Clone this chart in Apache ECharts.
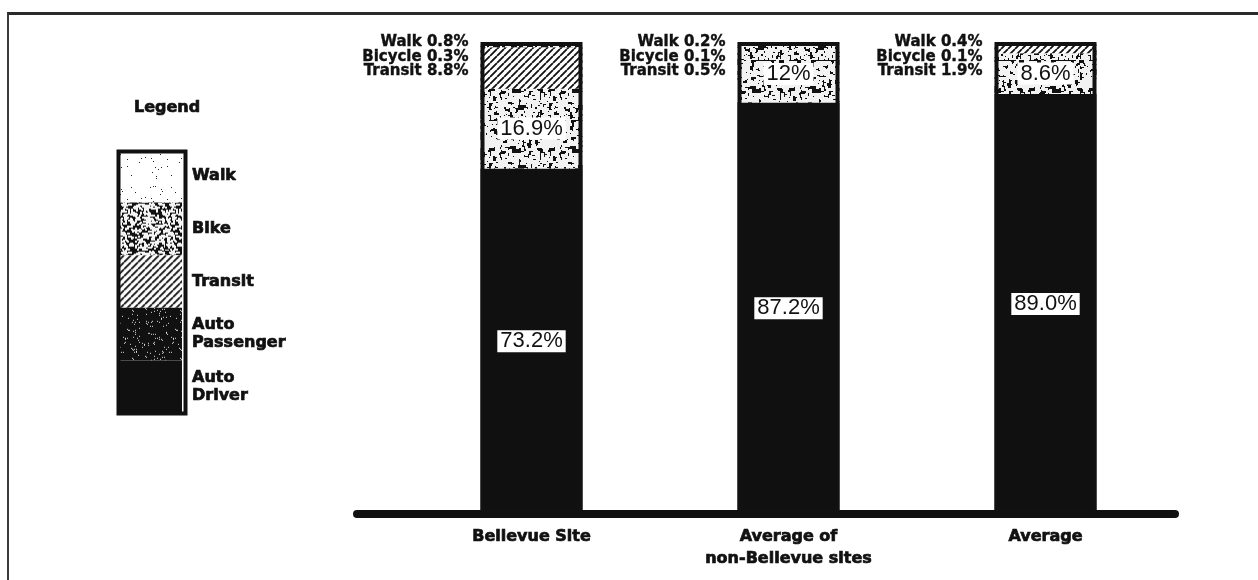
<!DOCTYPE html>
<html>
<head>
<meta charset="utf-8">
<title>Mode split by site</title>
<script src="https://cdn.jsdelivr.net/npm/echarts/dist/echarts.min.js"></script>
<style>
  html, body { margin: 0; padding: 0; background: #fff; overflow: hidden; }
  #wrap { position: relative; width: 1258px; height: 580px; }
  #chart { position: absolute; left: 0; top: 0; width: 1258px; height: 580px; }
  #frame { position: absolute; left: 7px; top: 12px; width: 1270px; height: 600px;
           border-top: 3px solid #2a2a2a; border-left: 2px solid #3a3a3a; pointer-events: none; }
</style>
</head>
<body>
<div id="wrap">
  <div id="chart"></div>
  <div id="frame"></div>
</div>
<script>
// Trip mode shares (percent) for each site group
const sites = ['Bellevue Site', 'Average of\nnon-Bellevue sites', 'Average'];
const autoDriver = [73.2, 87.2, 89.0];
const autoPassenger = [16.9, 12, 8.6];
const transit = [8.8, 0.5, 1.9];
const bike = [0.3, 0.1, 0.1];
const walk = [0.8, 0.2, 0.4];

const legendNames = ['Walk', 'Bike', 'Transit', 'Auto\nPassenger', 'Auto\nDriver'];
const noteNames = ['Walk', 'Bicycle', 'Transit'];

// --- fill textures -------------------------------------------------------
function hash(n) {
  n = (n ^ 61) ^ (n >>> 16);
  n = n + (n << 3);
  n = n ^ (n >>> 4);
  n = Math.imul(n, 0x27d4eb2d);
  n = n ^ (n >>> 15);
  return (n >>> 0) / 4294967296;
}
function speckle(size, bg, fg, density, dot, seed) {
  const c = document.createElement('canvas');
  c.width = c.height = size;
  const g = c.getContext('2d');
  g.fillStyle = bg;
  g.fillRect(0, 0, size, size);
  g.fillStyle = fg;
  for (let y = 0; y < size; y++) {
    for (let x = 0; x < size; x++) {
      if (hash(seed * 7919 + y * size + x) < density) g.fillRect(x, y, dot, dot);
    }
  }
  return { image: c, repeat: 'repeat' };
}
function hatch(size, lw) {
  const c = document.createElement('canvas');
  c.width = c.height = size;
  const g = c.getContext('2d');
  g.fillStyle = '#fff';
  g.fillRect(0, 0, size, size);
  g.strokeStyle = '#111';
  g.lineWidth = lw;
  g.beginPath();
  for (let k = -1; k <= 1; k++) {
    g.moveTo(k * size, size);
    g.lineTo(k * size + size, 0);
  }
  g.stroke();
  return { image: c, repeat: 'repeat' };
}

const fillWalk = speckle(40, '#ffffff', '#222', 0.02, 1, 1);
const fillBike = speckle(48, '#111111', '#f4f4f4', 0.2, 2, 2);
const fillTransit = hatch(7, 1.8);
const fillPassenger = speckle(60, '#111111', '#f2f2f2', 0.17, 3, 3);
const fillPassengerKey = speckle(48, '#111111', '#dddddd', 0.05, 1, 4);
const fillDriver = '#101010';

const totals = sites.map((_, i) => autoDriver[i] + autoPassenger[i] + transit[i] + bike[i] + walk[i]);

const boldFont = 'DejaVu Sans';
// slightly heavier strokes on the bold captions
const heavy = { textBorderColor: '#111', textBorderWidth: 0.7 };

const valueLabel = {
  show: true,
  position: 'inside',
  fontFamily: 'Liberation Sans',
  fontSize: 22,
  lineHeight: 22,
  color: '#111',
  backgroundColor: '#fff',
  padding: [0, 3, 0, 3]
};

function segment(name, data, fill, label) {
  return {
    name: name,
    type: 'bar',
    stack: 'mode',
    barWidth: 102,
    data: data,
    itemStyle: { color: fill },
    label: label || { show: false },
    silent: true
  };
}

const chart = echarts.init(document.getElementById('chart'), null, { renderer: 'canvas' });

chart.setOption({
  animation: false,
  backgroundColor: '#fff',
  title: {
    text: 'Legend',
    left: 134,
    top: 100,
    padding: 0,
    textStyle: Object.assign({ fontFamily: boldFont, fontWeight: 'bold', fontSize: 16, color: '#111' }, heavy)
  },
  legend: {
    orient: 'vertical',
    left: 117,
    top: 150,
    padding: 0,
    itemGap: 0,
    itemWidth: 65,
    itemHeight: 52.6,
    icon: 'rect',
    selectedMode: false,
    textStyle: Object.assign({
      fontFamily: boldFont, fontWeight: 'bold', fontSize: 16, lineHeight: 18,
      color: '#111', padding: [0, 0, 0, 5]
    }, heavy),
    itemStyle: { borderWidth: 0 },
    data: [
      { name: legendNames[0], itemStyle: { color: fillWalk } },
      { name: legendNames[1], itemStyle: { color: fillBike } },
      { name: legendNames[2], itemStyle: { color: fillTransit } },
      { name: legendNames[3], itemStyle: { color: fillPassengerKey } },
      { name: legendNames[4], itemStyle: { color: fillDriver } }
    ]
  },
  // outline round the key's swatch column
  graphic: [{
    type: 'rect',
    left: 116,
    top: 149,
    z: 100,
    shape: { width: 67, height: 262 },
    style: { fill: 'none', stroke: '#111', lineWidth: 4 },
    silent: true
  }],
  grid: [
    { left: 403, right: 84, top: 42, bottom: 66 },
    { left: 357, right: 83, top: 42, bottom: 66 }
  ],
  xAxis: [
    {
      type: 'category',
      gridIndex: 0,
      data: sites,
      axisLine: { show: false },
      axisTick: { show: false },
      axisLabel: Object.assign({
        margin: 12,
        fontFamily: boldFont,
        fontWeight: 'bold',
        fontSize: 16,
        lineHeight: 22,
        color: '#111'
      }, heavy)
    },
    {
      type: 'value',
      gridIndex: 1,
      min: 0,
      max: 1,
      axisLine: { show: true, onZero: false, lineStyle: { color: '#111', width: 8 } },
      axisTick: { show: false },
      axisLabel: { show: false },
      splitLine: { show: false }
    }
  ],
  yAxis: [
    { type: 'value', gridIndex: 0, min: 0, max: 100, show: false },
    { type: 'value', gridIndex: 1, min: 0, max: 100, show: false }
  ],
  series: [
    segment(legendNames[4], autoDriver, fillDriver, Object.assign({}, valueLabel, {
      formatter: p => p.value.toFixed(1) + '%'
    })),
    segment(legendNames[3], autoPassenger, fillPassenger, Object.assign({}, valueLabel, {
      formatter: p => p.value + '%'
    })),
    segment(legendNames[2], transit, fillTransit),
    segment(legendNames[1], bike, fillBike),
    segment(legendNames[0], walk, fillWalk),
    {
      // outline around each whole bar, carrying the small-share notes
      name: 'outline',
      type: 'bar',
      barWidth: 102,
      barGap: '-100%',
      z: 5,
      silent: true,
      data: totals,
      itemStyle: { color: 'rgba(0,0,0,0)', borderColor: '#111', borderWidth: 4 },
      label: Object.assign({
        show: true,
        position: [-12, -7],
        align: 'right',
        verticalAlign: 'top',
        fontFamily: boldFont,
        fontWeight: 'bold',
        fontSize: 15,
        lineHeight: 14.5,
        color: '#111',
        formatter: p => {
          const i = p.dataIndex;
          return noteNames[0] + ' ' + walk[i].toFixed(1) + '%\n' +
                 noteNames[1] + ' ' + bike[i].toFixed(1) + '%\n' +
                 noteNames[2] + ' ' + transit[i].toFixed(1) + '%';
        }
      }, { textBorderColor: '#111', textBorderWidth: 0.4 })
    }
  ]
});
</script>
</body>
</html>
